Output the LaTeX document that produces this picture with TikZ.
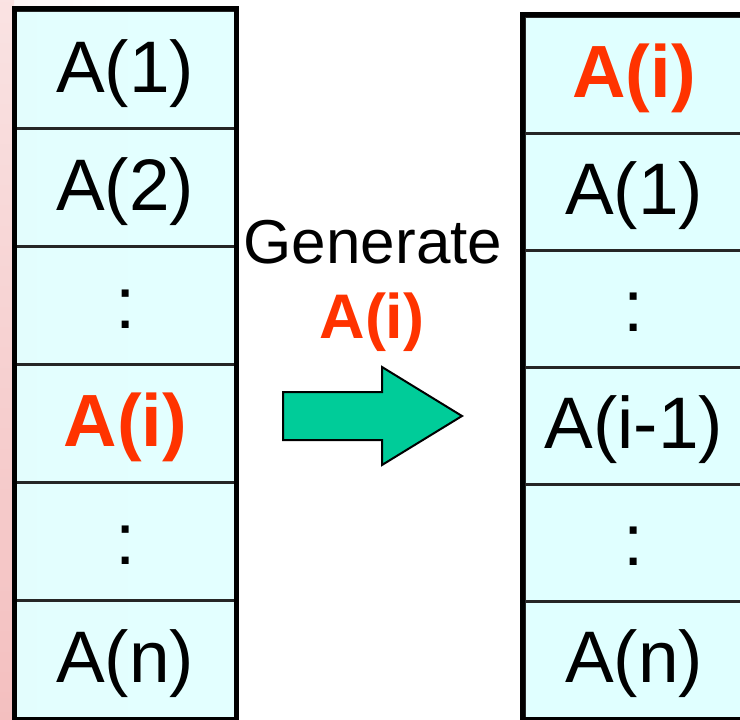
\documentclass[tikz,border=0pt]{standalone}
\usepackage{fontspec}
\setmainfont{Liberation Sans}
\usetikzlibrary{calc}
\definecolor{cellfill}{HTML}{E0FFFF}
\definecolor{hot}{HTML}{FF3300}
\definecolor{arrowfill}{HTML}{00CC99}
\definecolor{slidepink}{HTML}{F2B8B8}
\begin{document}
\begin{tikzpicture}[x=1pt, y=-1pt,
  cellL/.style={draw=black!85, line width=3pt, fill=cellfill, fill opacity=0.88, text opacity=1,
    minimum width=219.5pt, minimum height=118pt, inner sep=0pt,
    text height=46pt, text depth=0pt,
    font=\fontsize{73}{80}\selectfont},
  cellR/.style={cellL, minimum height=117pt, fill opacity=1},
  hotlabel/.style={text=hot, font=\fontsize{74}{80}\selectfont\bfseries},
  frame/.style={draw=black, line width=5pt},
  caption/.style={inner sep=0pt, anchor=base, font=\fontsize{62}{66}\selectfont},
]
\useasboundingbox (0,0) rectangle (740,720);
\clip (0,0) rectangle (740,720);
\fill[white] (0,0) rectangle (740,720);
% pink slide backdrop along the left edge
\shade[left color=slidepink!40, right color=white] (0,0) rectangle (130,720);
\fill[white, opacity=0.6] (0,0) rectangle (130,720);
\shade[top color=slidepink!40, bottom color=slidepink!90] (0,0) rectangle (14,720);

% source list
\node[cellL] (l1) at (125.25,69)  {A(1)};
\node[cellL] (l2) at (125.25,187) {A(2)};
\node[cellL] (l3) at (125.25,305) {:};
\node[cellL, hotlabel] (l4) at (125.25,423) {A(i)};
\node[cellL] (l5) at (125.25,541) {:};
\node[cellL] (l6) at (125.25,659) {A(n)};
\draw[frame] (l1.north west) rectangle (l6.south east);

% resulting list
\node[cellR, hotlabel] (r1) at (634,74.5) {A(i)};
\node[cellR] (r2) at (634,191.5) {A(1)};
\node[cellR] (r3) at (634,308.5) {:};
\node[cellR] (r4) at (634,425.5) {A(i-1)};
\node[cellR] (r5) at (634,542.5) {:};
\node[cellR] (r6) at (634,659.5) {A(n)};
\draw[frame] (r1.north west) rectangle (r6.south east);

% caption and block arrow
\node[caption] (gen) at (373,263) {Generate};
\node[caption, text=hot, font=\fontsize{63}{68}\selectfont\bfseries] (gi) at (372,338) {A(i)};
\draw[fill=arrowfill, draw=black, line width=2pt, line join=miter]
  (283,392) -- (382,392) -- (382,367) -- (462,416) -- (382,465) -- (382,440) -- (283,440) -- cycle;
\end{tikzpicture}
\end{document}
